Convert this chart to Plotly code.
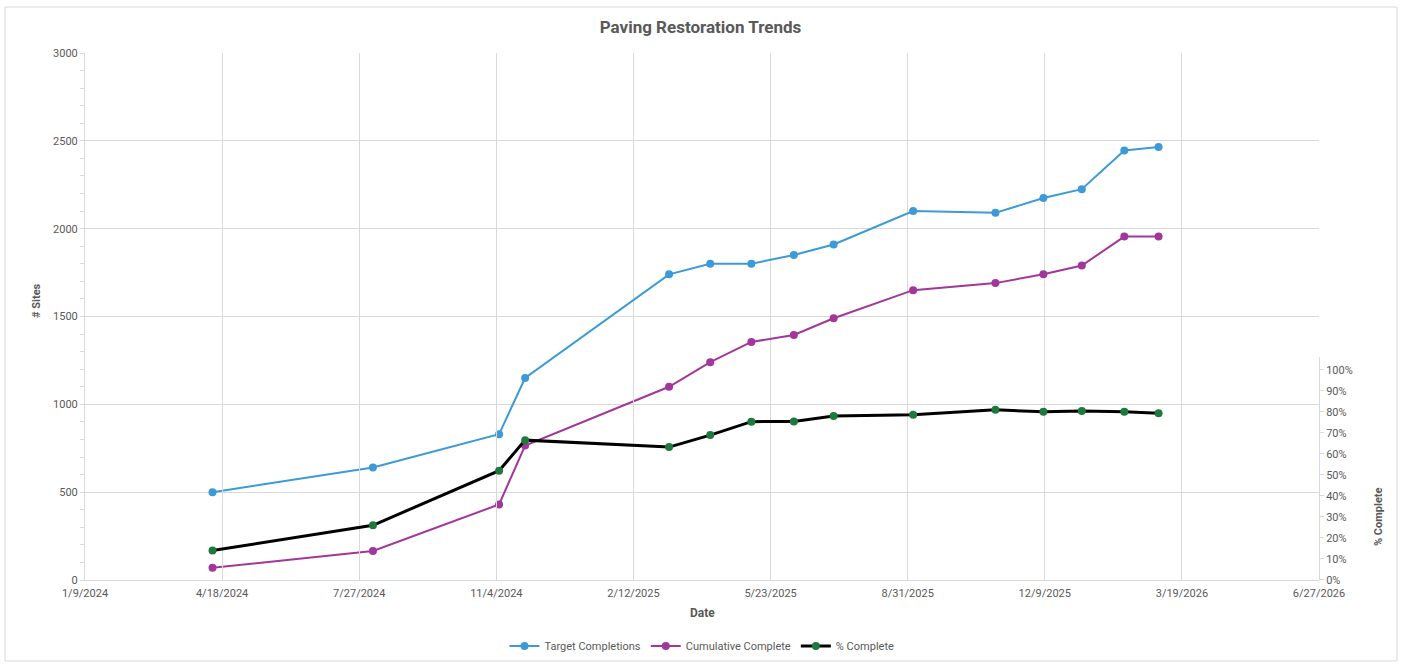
import plotly.graph_objects as go

dates = ["2024-04-11", "2024-08-06", "2024-11-06", "2024-11-25", "2025-03-10",
         "2025-04-09", "2025-05-09", "2025-06-09", "2025-07-08", "2025-09-04",
         "2025-11-03", "2025-12-08", "2026-01-05", "2026-02-05", "2026-03-02"]
target_completions = [500, 640, 830, 1150, 1740, 1800, 1800, 1850, 1910, 2100,
                      2090, 2175, 2225, 2445, 2465]
cumulative_complete = [70, 165, 430, 765, 1100, 1240, 1355, 1395, 1490, 1650,
                       1690, 1740, 1790, 1955, 1955]
pct_complete = [0.14, 0.26, 0.52, 0.665, 0.632, 0.689, 0.753, 0.754, 0.78, 0.786,
                0.809, 0.80, 0.804, 0.80, 0.793]

FONT = "Liberation Sans Narrow, Arial Narrow, Roboto, Liberation Sans, sans-serif"
GRAY = "#595959"
GRID = "#d9d9d9"

fig = go.Figure()
fig.add_trace(go.Scatter(x=dates, y=target_completions, name="Target Completions",
                         mode="lines+markers", line=dict(color="#3d9ad6", width=2),
                         marker=dict(color="#3d9ad6", size=8)))
fig.add_trace(go.Scatter(x=dates, y=cumulative_complete, name="Cumulative Complete",
                         mode="lines+markers", line=dict(color="#a2379b", width=2),
                         marker=dict(color="#a2379b", size=8)))
fig.add_trace(go.Scatter(x=dates, y=pct_complete, name="% Complete", yaxis="y2",
                         mode="lines+markers", line=dict(color="#000000", width=3),
                         marker=dict(color="#1e7a3c", size=8)))

fig.update_layout(
    width=1401, height=672,
    margin=dict(l=85, r=82, t=53, b=86),
    paper_bgcolor="white", plot_bgcolor="rgba(0,0,0,0)",
    font=dict(family=FONT, color=GRAY, size=11),
    title=dict(text="<b>Paving Restoration Trends</b>", x=0.5, xanchor="center",
               y=1 - 27 / 664, yanchor="middle", yref="container",
               font=dict(size=17, color=GRAY, family=FONT)),
    xaxis=dict(type="date", range=["2024-01-09", "2026-06-27"],
               tick0="2024-01-09", dtick=100 * 86400000, tickformat="%-m/%-d/%Y",
               showgrid=True, gridcolor=GRID, gridwidth=1,
               showline=True, linecolor=GRID, linewidth=1,
               ticks="outside", ticklen=3, tickcolor="rgba(0,0,0,0)",
               zeroline=False, tickfont=dict(size=11, color=GRAY)),
    yaxis=dict(range=[0, 3000], dtick=500, showgrid=True, gridcolor=GRID,
               showline=True, linecolor=GRID, linewidth=1, zeroline=False,
               ticks="outside", ticklen=4, tickcolor=GRID,
               minor=dict(dtick=100, ticks="outside", ticklen=4, tickcolor=GRID, showgrid=False),
               tickfont=dict(size=11, color=GRAY)),
    yaxis2=dict(domain=[0, 0.423], range=[0, 1.06], anchor="x", side="right",
                tickvals=[i / 10 for i in range(11)], tickformat=".0%",
                showgrid=False, zeroline=False, showline=True, linecolor=GRID, linewidth=1,
                ticks="outside", ticklen=4, tickcolor=GRID,
                tickfont=dict(size=11, color=GRAY)),
    legend=dict(orientation="h", x=0.5, xanchor="center", y=-0.125, yanchor="middle",
                font=dict(size=11, color=GRAY), itemwidth=30, tracegroupgap=0),
    showlegend=True,
)

fig.add_annotation(text="<b>Date</b>", xref="paper", yref="paper", x=0.5, y=-33 / 527,
                   showarrow=False, font=dict(size=12, color=GRAY), yanchor="middle")
fig.add_annotation(text="<b># Sites</b>", xref="paper", yref="paper", x=-49 / 1234,
                   y=(579 - 300) / 527, showarrow=False, textangle=-90,
                   font=dict(size=11, color=GRAY), xanchor="center", yanchor="middle")
fig.add_annotation(text="<b>% Complete</b>", xref="paper", yref="paper", x=(1378 - 85) / 1234,
                   y=(579 - 516) / 527, showarrow=False, textangle=-90,
                   font=dict(size=11, color=GRAY), xanchor="center", yanchor="middle")

fig.add_shape(type="rect", xref="paper", yref="paper",
              x0=(5 - 85) / 1234, x1=(1397 - 85) / 1234,
              y0=(579 - 660) / 527, y1=(579 - 6) / 527,
              line=dict(color="#d9d9d9", width=1), fillcolor="rgba(0,0,0,0)", layer="below")

fig.write_html("out.html", config={"responsive": False, "displayModeBar": False},
               post_script="document.body.style.margin='0';document.body.style.overflow='hidden';")
